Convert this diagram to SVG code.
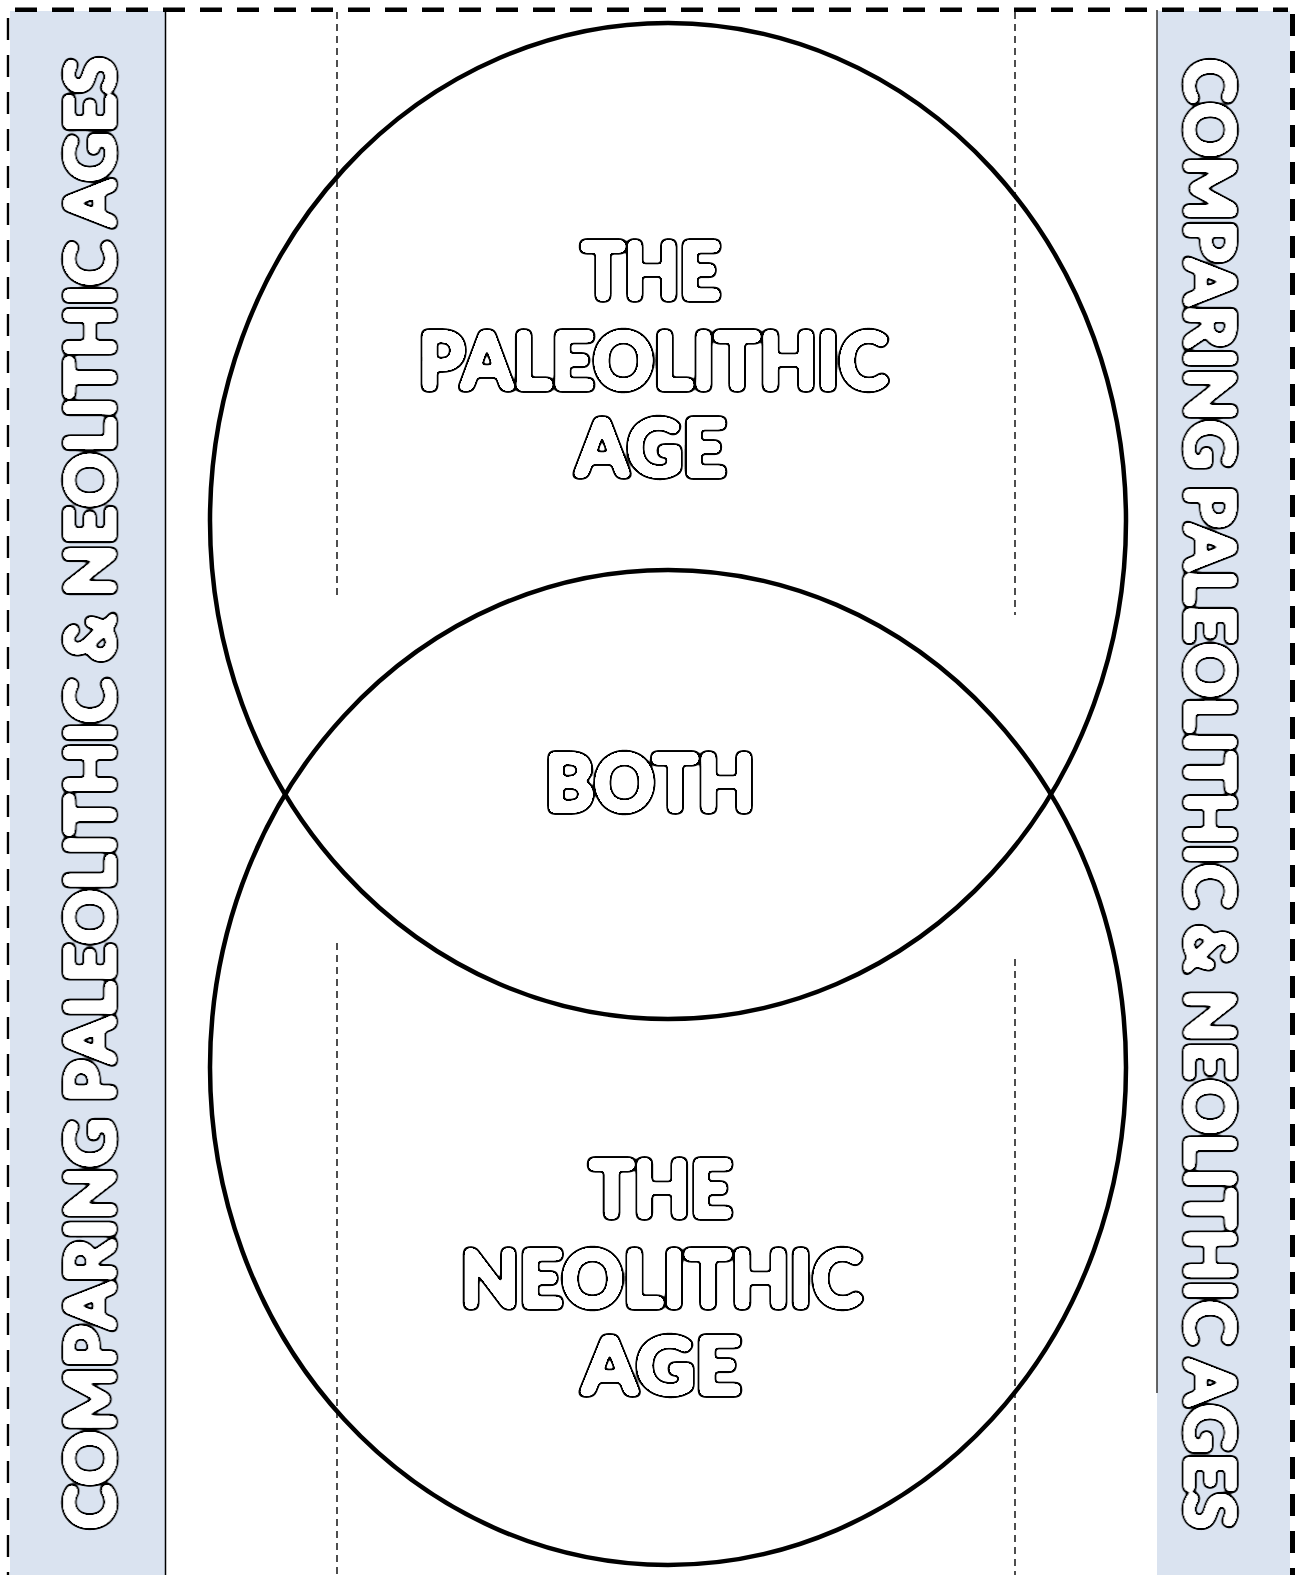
<svg xmlns="http://www.w3.org/2000/svg" width="1297" height="1575" viewBox="0 0 1297 1575">
<style>
.band{fill:#dae3f0}
.ring{fill:none;stroke:#000;stroke-width:4.5}
.fold{stroke:#222;stroke-width:1.6;stroke-dasharray:7 5;fill:none}
.cut{stroke:#000;fill:none;stroke-dasharray:22 15}
.bubble{font-family:Lato,"Open Sans","Liberation Sans",sans-serif;font-weight:bold;fill:#000;text-anchor:middle;filter:url(#puff)}
</style>
<defs>
<filter id="puff" x="-5%" y="-25%" width="110%" height="150%">
<feGaussianBlur in="SourceAlpha" stdDeviation="2.4" result="b"/>
<feComponentTransfer in="b" result="o"><feFuncA type="linear" slope="25" intercept="-1"/></feComponentTransfer>
<feComponentTransfer in="b" result="i"><feFuncA type="linear" slope="25" intercept="-5"/></feComponentTransfer>
<feFlood flood-color="#fff" result="w"/>
<feComposite in="w" in2="i" operator="in" result="wi"/>
<feMerge><feMergeNode in="o"/><feMergeNode in="wi"/></feMerge>
</filter>
</defs>
<rect width="1297" height="1575" fill="#fff"/>
<g id="left-band">
<rect class="band" x="10" y="11" width="155.5" height="1564"/>
<line x1="165.5" y1="11" x2="165.5" y2="1575" stroke="#000" stroke-width="1.5"/>
<text class="bubble" font-size="67" textLength="1472" lengthAdjust="spacingAndGlyphs" transform="translate(114.3,793) rotate(-90)">COMPARING PALEOLITHIC &amp; NEOLITHIC AGES</text>
</g>
<g id="right-band">
<rect class="band" x="1157" y="11" width="133" height="1564"/>
<line x1="1157" y1="10" x2="1157" y2="1393" stroke="#333" stroke-width="1.5"/>
<text class="bubble" font-size="67" textLength="1470" lengthAdjust="spacingAndGlyphs" transform="translate(1185.7,794) rotate(90)">COMPARING PALEOLITHIC &amp; NEOLITHIC AGES</text>
</g>
<g id="connectors">
<line class="cut" x1="15" y1="9.7" x2="1288" y2="9.7" stroke-width="4.5"/>
<line class="cut" x1="8" y1="18" x2="8" y2="1575" stroke-width="2.4"/>
<line class="cut" x1="1292.5" y1="14" x2="1292.5" y2="1575" stroke-width="5"/>
<line class="fold" x1="337" y1="12" x2="337" y2="598"/>
<line class="fold" x1="337" y1="943" x2="337" y2="1575"/>
<line class="fold" x1="1015" y1="12" x2="1015" y2="615"/>
<line class="fold" x1="1015" y1="959" x2="1015" y2="1575"/>
</g>
<g id="paleolithic">
<ellipse class="ring" cx="668" cy="521" rx="458" ry="498"/>
<text class="bubble" font-size="78" x="651" y="299.3" textLength="139" lengthAdjust="spacingAndGlyphs">THE</text>
<text class="bubble" font-size="78" x="653.5" y="389.3" textLength="470" lengthAdjust="spacingAndGlyphs">PALEOLITHIC</text>
<text class="bubble" font-size="78" x="651" y="476.3" textLength="151" lengthAdjust="spacingAndGlyphs">AGE</text>
</g>
<g id="neolithic">
<ellipse class="ring" cx="668" cy="1067.5" rx="458" ry="497.5"/>
<text class="bubble" font-size="78" x="661" y="1217.3" textLength="143" lengthAdjust="spacingAndGlyphs">THE</text>
<text class="bubble" font-size="78" x="661.5" y="1307.3" textLength="402" lengthAdjust="spacingAndGlyphs">NEOLITHIC</text>
<text class="bubble" font-size="78" x="661.5" y="1394.3" textLength="160" lengthAdjust="spacingAndGlyphs">AGE</text>
</g>
<g id="both">
<text class="bubble" font-size="78" x="650" y="811.3" textLength="210" lengthAdjust="spacingAndGlyphs">BOTH</text>
</g>
</svg>
